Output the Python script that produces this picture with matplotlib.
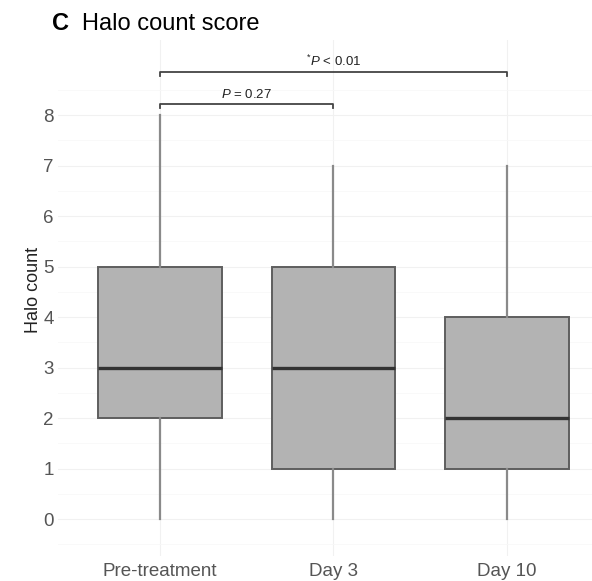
import matplotlib
matplotlib.use("Agg")
import matplotlib.pyplot as plt

plt.rcParams["font.family"] = ["Liberation Sans", "DejaVu Sans"]
plt.rcParams["mathtext.fontset"] = "custom"
plt.rcParams["mathtext.rm"] = "Liberation Sans"
plt.rcParams["mathtext.it"] = "Liberation Sans:italic"

# box summaries
groups = ["Pre-treatment", "Day 3", "Day 10"]
mins = [0, 0, 0]
q1s = [2, 1, 1]
medians = [3, 3, 2]
q3s = [5, 5, 4]
maxs = [8, 7, 7]

# significance brackets: (from group, to group, height, label)
brackets = [(1, 2, 8.22, "$P$ = 0.27"), (1, 3, 8.85, "$^{*}P$ < 0.01")]

fig = plt.figure(figsize=(5.92, 5.81), dpi=100)
ax = fig.add_axes([58 / 592, 1 - 556 / 581, 534 / 592, 516 / 581])

stats = []
for g, lo, a, m, b, hi in zip(groups, mins, q1s, medians, q3s, maxs):
    stats.append(dict(label=g, whislo=lo, q1=a, med=m, q3=b, whishi=hi, fliers=[]))

pos = list(range(1, len(groups) + 1))
ax.bxp(stats, positions=pos, widths=0.71, patch_artist=True, showcaps=False,
       boxprops=dict(facecolor="#b3b3b3", edgecolor="#5e5e5e", linewidth=1.4),
       medianprops=dict(color="#333333", linewidth=2.4),
       whiskerprops=dict(color="#8a8a8a", linewidth=1.6))

for x0, x1, h, lab in brackets:
    ax.plot([x0, x0, x1, x1], [h - 0.08, h, h, h - 0.08], color="#444444", lw=1.3,
            clip_on=False)
    ax.text((x0 + x1) / 2, h + 0.06, lab, ha="center", va="bottom", fontsize=9.5,
            color="#222222")

# x=1 sits at 160 px, one step is ~173.5 px
ax.set_xlim(1 - 102 / 173.5, 1 + 432 / 173.5)
ax.set_ylim(-0.73, 9.49)
ax.set_yticks(range(0, 9))
ax.set_yticks([y + 0.5 for y in range(-1, 9)], minor=True)
ax.set_xticks(pos)
ax.set_xticklabels(groups)
ax.tick_params(axis="both", length=0, labelsize=13.5, labelcolor="#555555")
ax.tick_params(axis="y", pad=3)
ax.tick_params(axis="x", pad=5)
ax.tick_params(which="minor", length=0)
ax.grid(True, which="major", color="#f1f1f1", lw=0.8)
ax.grid(True, which="minor", axis="y", color="#f8f8f8", lw=0.6)
ax.set_axisbelow(True)
for s in ax.spines.values():
    s.set_visible(False)

fig.text(33 / 592, 1 - 290 / 581, "Halo count", rotation=90, ha="center", va="center",
         fontsize=13, color="#222222")
fig.text(52 / 592, 1 - 24 / 581, "C", fontsize=17, fontweight="bold", va="center")
fig.text(82 / 592, 1 - 24 / 581, "Halo count score", fontsize=17, va="center")

fig.savefig("out.png", dpi=100)
